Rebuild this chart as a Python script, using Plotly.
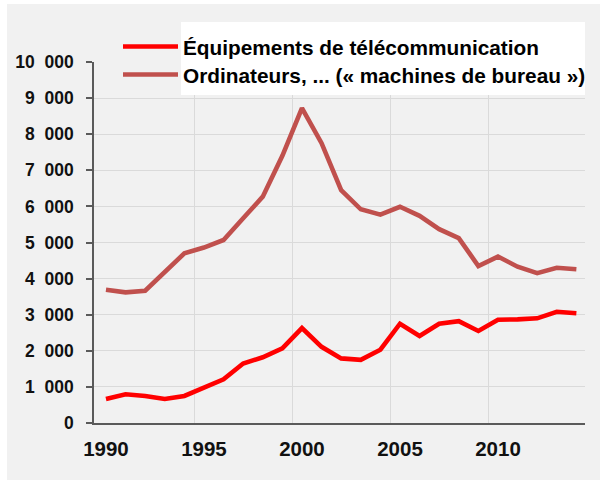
import plotly.graph_objects as go

years = list(range(1990, 2015))
telecom = [665, 795, 750, 665, 750, 990, 1210, 1650, 1820, 2070, 2630, 2110, 1790, 1750, 2030,
           2750, 2410, 2750, 2820, 2550, 2860, 2870, 2900, 3080, 3040]
ordinateurs = [3690, 3620, 3665, 4190, 4700, 4860, 5070, 5670, 6270, 7400, 8720, 7750, 6450, 5920, 5770,
               5990, 5740, 5370, 5120, 4350, 4610, 4330, 4150, 4300, 4260]
series_names = ["Équipements de télécommunication", "Ordinateurs, ... (« machines de bureau »)"]
x_tick_vals = [1990, 1995, 2000, 2005, 2010]
y_tick_vals = list(range(0, 10001, 1000))
y_tick_text = ["0" if v == 0 else f"{v // 1000}\u2007000" for v in y_tick_vals]
y_grid_vals = list(range(1000, 10000, 1000))
x_grid_vals = [1994.5, 1999.5, 2004.5, 2009.5]

W, H = 603, 480
L, R, T, B = 94, 18, 62, 57
pw, ph = W - L - R, H - T - B

def px_x(p):
    return (p - L) / pw

def px_y(p):
    return (H - B - p) / ph

FONT = "Liberation Sans, Arial, Helvetica, sans-serif"
GRID = "#dadada"
AXIS = "#5a5a5a"
LEG_FONT = dict(family=FONT, size=20.8, color="#000000", weight="bold")

fig = go.Figure()
fig.add_trace(go.Scatter(x=years, y=telecom, mode="lines", name=series_names[0],
                         line=dict(color="#ff0000", width=4.6), xaxis="x", yaxis="y",
                         legend="legend"))
fig.add_trace(go.Scatter(x=years, y=ordinateurs, mode="lines", name=series_names[1],
                         line=dict(color="#c0504d", width=4.6), xaxis="x2", yaxis="y2",
                         legend="legend2"))

xr = [1989.39, 2014.44]
yr = [0, 10000]

fig.update_layout(
    width=W, height=H,
    margin=dict(l=L, r=R, t=T, b=B, pad=0),
    paper_bgcolor="#ffffff",
    plot_bgcolor="#f1f1f1",
    font=dict(family=FONT, color="#111111"),
    showlegend=True,
    legend=dict(
        x=px_x(118), y=px_y(47), xanchor="left", yanchor="middle",
        bgcolor="rgba(0,0,0,0)", borderwidth=0, font=LEG_FONT, itemwidth=55,
    ),
    legend2=dict(
        x=px_x(118), y=px_y(75), xanchor="left", yanchor="middle",
        bgcolor="rgba(0,0,0,0)", borderwidth=0, font=LEG_FONT, itemwidth=55,
    ),
    xaxis=dict(
        range=xr, tickmode="array", tickvals=x_tick_vals, ticktext=[str(v) for v in x_tick_vals],
        showgrid=False, zeroline=False, showline=True, linecolor=AXIS, linewidth=1.5,
        ticks="", ticklabelstandoff=7,
        tickfont=dict(family=FONT, size=20.5, color="#111111", weight="bold"),
    ),
    yaxis=dict(
        range=yr, tickmode="array", tickvals=y_tick_vals, ticktext=y_tick_text,
        showgrid=False, zeroline=False, showline=True, linecolor=AXIS, linewidth=1.5,
        ticks="outside", ticklen=6, tickcolor=AXIS, tickwidth=1.5, ticklabelstandoff=9,
        tickfont=dict(family=FONT, size=17.5, color="#111111", weight="bold"),
    ),
    xaxis2=dict(
        range=xr, overlaying="x", tickmode="array", tickvals=x_grid_vals,
        showgrid=True, gridcolor=GRID, gridwidth=1.2, showticklabels=False,
        ticks="", zeroline=False, showline=False,
    ),
    yaxis2=dict(
        range=yr, overlaying="y", tickmode="array", tickvals=y_grid_vals,
        showgrid=True, gridcolor=GRID, gridwidth=1.2, showticklabels=False,
        ticks="", zeroline=False, showline=False,
    ),
    shapes=[
        dict(type="rect", xref="paper", yref="paper", layer="below",
             x0=px_x(7), x1=px_x(600), y0=px_y(480), y1=px_y(4),
             fillcolor="#f1f1f1", line=dict(width=0)),
        dict(type="rect", xref="paper", yref="paper", layer="above",
             x0=px_x(181), x1=px_x(585), y0=px_y(95), y1=px_y(22),
             fillcolor="#ffffff", line=dict(width=0)),
    ],
)

fig.write_html("out.html", config={"displayModeBar": False},
               post_script="document.body.style.margin='0';")
